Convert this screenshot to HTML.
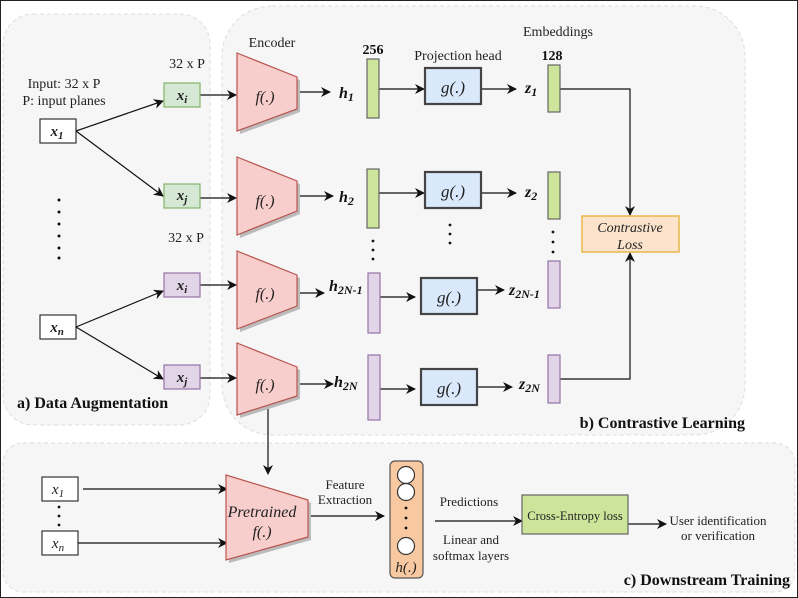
<!DOCTYPE html>
<html><head><meta charset="utf-8"><style>
html,body{margin:0;padding:0;background:#fff}
svg{display:block;font-family:"Liberation Serif",serif}
</style></head><body>
<svg width="798" height="598" viewBox="0 0 798 598" xmlns="http://www.w3.org/2000/svg">
<defs>
<marker id="a" viewBox="0 0 10 10" refX="9" refY="5" markerWidth="10" markerHeight="10" orient="auto" markerUnits="userSpaceOnUse"><path d="M0,0 L10,5 L0,10 L3,5 Z" fill="#111"/></marker>
</defs>
<rect x="0.5" y="0.5" width="797" height="597" fill="#fff" stroke="#222" stroke-width="1"/>
<rect x="3" y="14" width="207" height="411" rx="30" fill="#f6f6f6" stroke="#ddd" stroke-dasharray="4,3"/>
<rect x="222" y="6" width="523" height="429" rx="50" fill="#f6f6f6" stroke="#ddd" stroke-dasharray="4,3"/>
<rect x="3" y="443" width="792" height="149" rx="20" fill="#f6f6f6" stroke="#ddd" stroke-dasharray="4,3"/>

<g font-size="14" fill="#222" text-anchor="middle">
<text x="64" y="88">Input: 32 x P</text>
<text x="64" y="105">P: input planes</text>
<text x="187" y="68">32 x P</text>
<text x="186" y="242">32 x P</text>
<text x="272" y="47">Encoder</text>
<text x="458" y="60">Projection head</text>
<text x="558" y="36">Embeddings</text>
</g>
<g font-size="14" font-weight="bold" text-anchor="middle" fill="#111">
<text x="373" y="54">256</text>
<text x="552" y="60">128</text>
</g>

<g stroke="#333" stroke-width="1.2" fill="#fff">
<rect x="40" y="119" width="36" height="24"/>
<rect x="40" y="315" width="36" height="24"/>
</g>
<g font-size="15" font-style="italic" font-weight="bold" text-anchor="middle" fill="#222">
<text x="57" y="136">x<tspan font-size="11" dy="3">1</tspan></text>
<text x="57" y="332">x<tspan font-size="11" dy="3">n</tspan></text>
</g>
<g fill="#111"><circle cx="59" cy="200" r="1.5"/><circle cx="59" cy="212" r="1.5"/><circle cx="59" cy="224" r="1.5"/><circle cx="59" cy="236" r="1.5"/><circle cx="59" cy="248" r="1.5"/><circle cx="59" cy="258" r="1.5"/></g>

<g stroke="#111" stroke-width="1.2" fill="none" marker-end="url(#a)">
<line x1="76" y1="131" x2="163" y2="101"/>
<line x1="76" y1="131" x2="163" y2="196"/>
<line x1="76" y1="327" x2="163" y2="291"/>
<line x1="76" y1="327" x2="163" y2="379"/>
<line x1="200" y1="95" x2="236" y2="95"/>
<line x1="200" y1="198" x2="236" y2="198"/>
<line x1="200" y1="285" x2="236" y2="285"/>
<line x1="200" y1="378" x2="236" y2="378"/>
<line x1="297" y1="92" x2="330" y2="92"/>
<line x1="297" y1="196" x2="333" y2="196"/>
<line x1="297" y1="293" x2="324" y2="293"/>
<line x1="297" y1="384" x2="333" y2="384"/>
<line x1="379" y1="89" x2="424" y2="89"/>
<line x1="379" y1="193" x2="424" y2="193"/>
<line x1="380" y1="297" x2="415" y2="297"/>
<line x1="380" y1="389" x2="415" y2="389"/>
<line x1="481" y1="89" x2="516" y2="89"/>
<line x1="481" y1="193" x2="516" y2="193"/>
<line x1="477" y1="290" x2="504" y2="290"/>
<line x1="477" y1="387" x2="512" y2="387"/>
<polyline points="560,89 630,89 630,215"/>
<polyline points="560,379 630,379 630,253"/>
<line x1="268" y1="402" x2="268" y2="474"/>
</g>

<g stroke-width="1.2">
<rect x="164" y="83" width="36" height="24" fill="#d5e8d4" stroke="#82b366"/>
<rect x="164" y="184" width="36" height="24" fill="#d5e8d4" stroke="#82b366"/>
<rect x="164" y="273" width="36" height="24" fill="#e1d5e7" stroke="#9673a6"/>
<rect x="164" y="365" width="36" height="24" fill="#e1d5e7" stroke="#9673a6"/>
</g>
<g font-size="15" font-style="italic" font-weight="bold" text-anchor="middle" fill="#222">
<text x="182" y="100">x<tspan font-size="11" dy="3">i</tspan></text>
<text x="182" y="200">x<tspan font-size="11" dy="3">j</tspan></text>
<text x="182" y="290">x<tspan font-size="11" dy="3">i</tspan></text>
<text x="182" y="382">x<tspan font-size="11" dy="3">j</tspan></text>
</g>

<g fill="#f8cecc" stroke="#b85450" stroke-width="1.2">
<polygon points="240,56 300,80 300,112 240,134" fill="#bbb" stroke="none"/>
<polygon points="237,53 297,77 297,109 237,131"/>
<polygon points="240,160 300,184 300,214 240,238" fill="#bbb" stroke="none"/>
<polygon points="237,157 297,181 297,211 237,235"/>
<polygon points="240,254 300,278 300,309 240,332" fill="#bbb" stroke="none"/>
<polygon points="237,251 297,275 297,306 237,329"/>
<polygon points="240,346 300,370 300,399 240,418" fill="#bbb" stroke="none"/>
<polygon points="237,343 297,367 297,396 237,415"/>
</g>
<g font-size="16" font-style="italic" text-anchor="middle" fill="#222">
<text x="265" y="102">f(.)</text>
<text x="265" y="206">f(.)</text>
<text x="265" y="299">f(.)</text>
<text x="265" y="390">f(.)</text>
</g>

<g font-size="16" font-style="italic" font-weight="bold" fill="#111">
<text x="339" y="98">h<tspan font-size="12" dy="3">1</tspan></text>
<text x="339" y="202">h<tspan font-size="12" dy="3">2</tspan></text>
<text x="329" y="291">h<tspan font-size="12" dy="3">2N-1</tspan></text>
<text x="334" y="387">h<tspan font-size="12" dy="3">2N</tspan></text>
</g>

<g stroke-width="1.2">
<rect x="367" y="59" width="12" height="59" fill="#cde59a" stroke="#666"/>
<rect x="367" y="169" width="12" height="59" fill="#cde59a" stroke="#666"/>
<rect x="368" y="273" width="12" height="60" fill="#e1d5e7" stroke="#9673a6"/>
<rect x="368" y="355" width="12" height="65" fill="#e1d5e7" stroke="#9673a6"/>
<rect x="548" y="65" width="12" height="47" fill="#cde59a" stroke="#666"/>
<rect x="548" y="172" width="12" height="47" fill="#cde59a" stroke="#666"/>
<rect x="548" y="261" width="12" height="47" fill="#e1d5e7" stroke="#9673a6"/>
<rect x="548" y="355" width="12" height="48" fill="#e1d5e7" stroke="#9673a6"/>
</g>
<g fill="#111">
<circle cx="373" cy="241" r="1.4"/><circle cx="373" cy="250" r="1.4"/><circle cx="373" cy="259" r="1.4"/>
<circle cx="450" cy="225" r="1.4"/><circle cx="450" cy="234" r="1.4"/><circle cx="450" cy="243" r="1.4"/>
<circle cx="553" cy="232" r="1.4"/><circle cx="553" cy="242" r="1.4"/><circle cx="553" cy="252" r="1.4"/>
</g>

<g fill="#dae8fc" stroke="#444" stroke-width="2.2">
<rect x="425" y="68" width="56" height="36"/>
<rect x="425" y="172" width="56" height="36"/>
<rect x="421" y="278" width="56" height="36"/>
<rect x="421" y="369" width="56" height="36"/>
</g>
<g font-size="17" font-style="italic" text-anchor="middle" fill="#222">
<text x="453" y="93">g(.)</text>
<text x="453" y="197">g(.)</text>
<text x="449" y="303">g(.)</text>
<text x="449" y="394">g(.)</text>
</g>
<g font-size="16" font-style="italic" font-weight="bold" fill="#111">
<text x="525" y="93">z<tspan font-size="12" dy="3">1</tspan></text>
<text x="525" y="197">z<tspan font-size="12" dy="3">2</tspan></text>
<text x="509" y="295">z<tspan font-size="12" dy="3">2N-1</tspan></text>
<text x="519" y="389">z<tspan font-size="12" dy="3">2N</tspan></text>
</g>

<rect x="582" y="216" width="97" height="36" fill="#fce3cc" stroke="#e8b84a" stroke-width="1.5"/>
<g font-size="14" font-style="italic" text-anchor="middle" fill="#222">
<text x="630" y="232">Contrastive</text>
<text x="630" y="249">Loss</text>
</g>

<g font-size="16" font-weight="bold" fill="#111">
<text x="17" y="408">a) Data Augmentation</text>
<text x="745" y="428" text-anchor="end">b) Contrastive Learning</text>
<text x="790" y="585" text-anchor="end">c) Downstream Training</text>
</g>

<g stroke="#333" stroke-width="1.2" fill="#fff">
<rect x="42" y="477" width="36" height="24"/>
<rect x="42" y="531" width="36" height="24"/>
</g>
<g font-size="15" font-style="italic" text-anchor="middle" fill="#222">
<text x="58" y="494">x<tspan font-size="11" dy="3">1</tspan></text>
<text x="58" y="548">x<tspan font-size="11" dy="3">n</tspan></text>
</g>
<g fill="#111"><circle cx="59" cy="507" r="1.4"/><circle cx="59" cy="516" r="1.4"/><circle cx="59" cy="525" r="1.4"/></g>
<g stroke="#111" stroke-width="1.2" fill="none" marker-end="url(#a)">
<line x1="83" y1="489" x2="227" y2="489"/>
<line x1="78" y1="543" x2="227" y2="543"/>
<line x1="308" y1="516" x2="384" y2="516"/>
<line x1="435" y1="521" x2="522" y2="521"/>
<line x1="628" y1="524" x2="666" y2="524"/>
</g>
<polygon points="229,478 311,503 311,540 229,563" fill="#bbb"/>
<polygon points="226,475 308,500 308,537 226,560" fill="#f8cecc" stroke="#b85450" stroke-width="1.2"/>
<g font-size="16" font-style="italic" text-anchor="middle" fill="#222">
<text x="262" y="517">Pretrained</text>
<text x="262" y="537">f(.)</text>
</g>
<g font-size="13" text-anchor="middle" fill="#222">
<text x="345" y="489">Feature</text>
<text x="345" y="504">Extraction</text>
<text x="469" y="506">Predictions</text>
<text x="471" y="544">Linear and</text>
<text x="471" y="560">softmax layers</text>
<text x="718" y="525">User identification</text>
<text x="718" y="540">or verification</text>
</g>
<rect x="390" y="461" width="33" height="117" rx="5" fill="#f8c9a0" stroke="#555" stroke-width="1.2"/>
<g fill="#fff" stroke="#333" stroke-width="1.2">
<circle cx="406" cy="475" r="8.5"/><circle cx="406" cy="492" r="8.5"/><circle cx="406" cy="546" r="8.5"/>
</g>
<g fill="#111"><circle cx="406" cy="508" r="1.4"/><circle cx="406" cy="518" r="1.4"/><circle cx="406" cy="528" r="1.4"/></g>
<text x="406" y="572" font-size="15" font-style="italic" text-anchor="middle" fill="#222">h(.)</text>
<rect x="522" y="495" width="106" height="39" fill="#cde59a" stroke="#666" stroke-width="1.2"/>
<text x="575" y="520" font-size="12.5" text-anchor="middle" fill="#222">Cross-Entropy loss</text>
</svg>
</body></html>
